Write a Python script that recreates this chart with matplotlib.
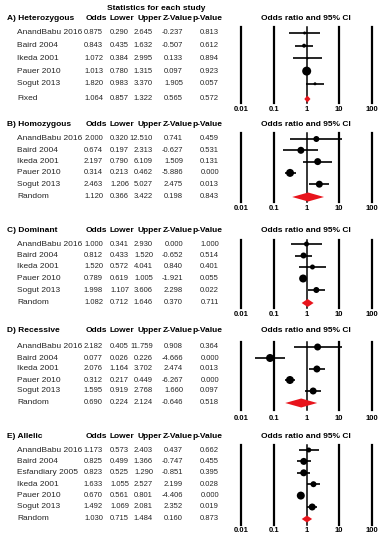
import numpy as np
import matplotlib
matplotlib.use('Agg')
import matplotlib.pyplot as plt
from matplotlib.ticker import NullLocator

plt.rcParams['font.family'] = ['Liberation Sans', 'DejaVu Sans']

W, H = 388, 543

# ---- data ----
het_studies = ['AnandBabu 2016', 'Baird 2004', 'Ikeda 2001', 'Pauer 2010', 'Sogut 2013', 'Fixed']
het_odds = [0.875, 0.843, 1.072, 1.013, 1.820, 1.064]
het_lower = [0.290, 0.435, 0.384, 0.780, 0.983, 0.857]
het_upper = [2.645, 1.632, 2.995, 1.315, 3.370, 1.322]
het_z = [-0.237, -0.507, 0.133, 0.097, 1.905, 0.565]
het_p = [0.813, 0.612, 0.894, 0.923, 0.057, 0.572]
het_weight = [3, 4, 2, 9, 3]

hom_studies = ['AnandBabu 2016', 'Baird 2004', 'Ikeda 2001', 'Pauer 2010', 'Sogut 2013', 'Random']
hom_odds = [2.000, 0.674, 2.197, 0.314, 2.463, 1.120]
hom_lower = [0.320, 0.197, 0.790, 0.213, 1.206, 0.366]
hom_upper = [12.510, 2.313, 6.109, 0.462, 5.027, 3.422]
hom_z = [0.741, -0.627, 1.509, -5.886, 2.475, 0.198]
hom_p = [0.459, 0.531, 0.131, 0.000, 0.013, 0.843]
hom_weight = [6, 7, 7, 8, 7]

dom_studies = ['AnandBabu 2016', 'Baird 2004', 'Ikeda 2001', 'Pauer 2010', 'Sogut 2013', 'Random']
dom_odds = [1.000, 0.812, 1.520, 0.789, 1.998, 1.082]
dom_lower = [0.341, 0.433, 0.572, 0.619, 1.107, 0.712]
dom_upper = [2.930, 1.520, 4.041, 1.005, 3.606, 1.646]
dom_z = [0.000, -0.652, 0.840, -1.921, 2.298, 0.370]
dom_p = [1.000, 0.514, 0.401, 0.055, 0.022, 0.711]
dom_weight = [5, 6, 5, 8, 6]

rec_studies = ['AnandBabu 2016', 'Baird 2004', 'Ikeda 2001', 'Pauer 2010', 'Sogut 2013', 'Random']
rec_odds = [2.182, 0.077, 2.076, 0.312, 1.595, 0.690]
rec_lower = [0.405, 0.026, 1.164, 0.217, 0.919, 0.224]
rec_upper = [11.759, 0.226, 3.702, 0.449, 2.768, 2.124]
rec_z = [0.908, -4.666, 2.474, -6.267, 1.660, -0.646]
rec_p = [0.364, 0.000, 0.013, 0.000, 0.097, 0.518]
rec_weight = [7, 8, 7, 8, 7]

all_studies = ['AnandBabu 2016', 'Baird 2004', 'Esfandiary 2005', 'Ikeda 2001',
               'Pauer 2010', 'Sogut 2013', 'Random']
all_odds = [1.173, 0.825, 0.823, 1.633, 0.670, 1.492, 1.030]
all_lower = [0.573, 0.499, 0.525, 1.055, 0.561, 1.069, 0.715]
all_upper = [2.403, 1.366, 1.290, 2.527, 0.801, 2.081, 1.484]
all_z = [0.437, -0.747, -0.851, 2.199, -4.406, 2.352, 0.160]
all_p = [0.662, 0.455, 0.395, 0.028, 0.000, 0.019, 0.873]
all_weight = [5, 7, 7, 6, 8, 7]

col_heads = ['Odds', 'Lower', 'Upper', 'Z-Value', 'p-Value']
ticks = [0.01, 0.1, 1, 10, 100]
tick_labels = ['0.01', '0.1', '1', '10', '100']

# layout per panel (pixel rows): header, first row, row step, summary, line top, line bottom, tick labels, diamond half height
panels = [
    ('A) Heterozygous', het_studies, het_odds, het_lower, het_upper, het_z, het_p, het_weight,
     (18, 33, 12.7, 99, 27, 103, 110, 3.5)),
    ('B) Homozygous', hom_studies, hom_odds, hom_lower, hom_upper, hom_z, hom_p, hom_weight,
     (125, 139, 11.3, 197, 133, 202, 209, 4.5)),
    ('C) Dominant', dom_studies, dom_odds, dom_lower, dom_upper, dom_z, dom_p, dom_weight,
     (231, 244, 11.5, 303, 240, 308, 315, 4)),
    ('D) Recessive', rec_studies, rec_odds, rec_lower, rec_upper, rec_z, rec_p, rec_weight,
     (331, 347, 11.0, 403, 342, 410, 419, 4.5)),
    ('E) Allelic', all_studies, all_odds, all_lower, all_upper, all_z, all_p, all_weight,
     (436, 450, 11.4, 519, 445, 525, 531, 3.5)),
]

FS = 6.0       # names / headers
FS_NUM = 5.5   # numeric columns
name_x = 17
head_x = [86, 110, 137, 163, 192]
col_right = [103, 129, 153, 183, 219]
fx0, fx1 = 241, 372  # forest area: 0.01 .. 100
txt_col = '#262626'

fig = plt.figure(figsize=(W / 100, H / 100), dpi=100)
bg = fig.add_axes([0, 0, 1, 1])
bg.set_xlim(0, W)
bg.set_ylim(H, 0)
bg.axis('off')

bg.text(156, 8, 'Statistics for each study', ha='center', va='center',
        fontsize=FS, fontweight='bold')

for label, studies, odds, lower, upper, zv, pv, weight, lay in panels:
    head_y, first_y, step, sum_y, top, bot, tick_y, dh = lay
    n = len(studies)
    ys = [first_y + i * step for i in range(n - 1)] + [sum_y]

    # table part
    bg.text(7, head_y, label, ha='left', va='center', fontsize=FS, fontweight='bold')
    for hx, h in zip(head_x, col_heads):
        bg.text(hx, head_y, h, ha='left', va='center', fontsize=FS, fontweight='bold')
    bg.text(306, head_y, 'Odds ratio and 95% CI', ha='center', va='center',
            fontsize=FS, fontweight='bold')
    for i in range(n):
        bg.text(name_x, ys[i], studies[i], ha='left', va='center', fontsize=FS, color=txt_col)
        vals = [odds[i], lower[i], upper[i], zv[i], pv[i]]
        for cx, v in zip(col_right, vals):
            bg.text(cx, ys[i], f'{v:.3f}', ha='right', va='center', fontsize=FS_NUM, color=txt_col)

    # forest part
    ax = fig.add_axes([fx0 / W, 1 - bot / H, (fx1 - fx0) / W, (bot - top) / H])
    ax.set_xscale('log')
    ax.set_xlim(0.01, 100)
    ax.set_ylim(bot, top)
    for t in ticks:
        ax.axvline(t, color='black', lw=1.6 if t != 1 else 1.1, clip_on=False, zorder=1)
    ax.hlines(ys[:-1], lower[:-1], upper[:-1], color='black', lw=1.2, zorder=2)
    ms = (np.array(weight) * 0.72) ** 2
    ax.scatter(odds[:-1], ys[:-1], s=ms, c='black', zorder=3, linewidths=0)
    ax.fill([lower[-1], odds[-1], upper[-1], odds[-1]],
            [sum_y, sum_y - dh, sum_y, sum_y + dh], color='#e8141c', zorder=4, lw=0)

    ax.set_xticks(ticks)
    ax.set_xticklabels(tick_labels, fontsize=FS_NUM, fontweight='bold')
    ax.xaxis.set_minor_locator(NullLocator())
    ax.tick_params(axis='x', length=0, pad=(tick_y - bot - 4) * 0.72)
    ax.set_yticks([])
    for s in ax.spines.values():
        s.set_visible(False)
    ax.patch.set_alpha(0)

fig.savefig('out.png', dpi=100)
